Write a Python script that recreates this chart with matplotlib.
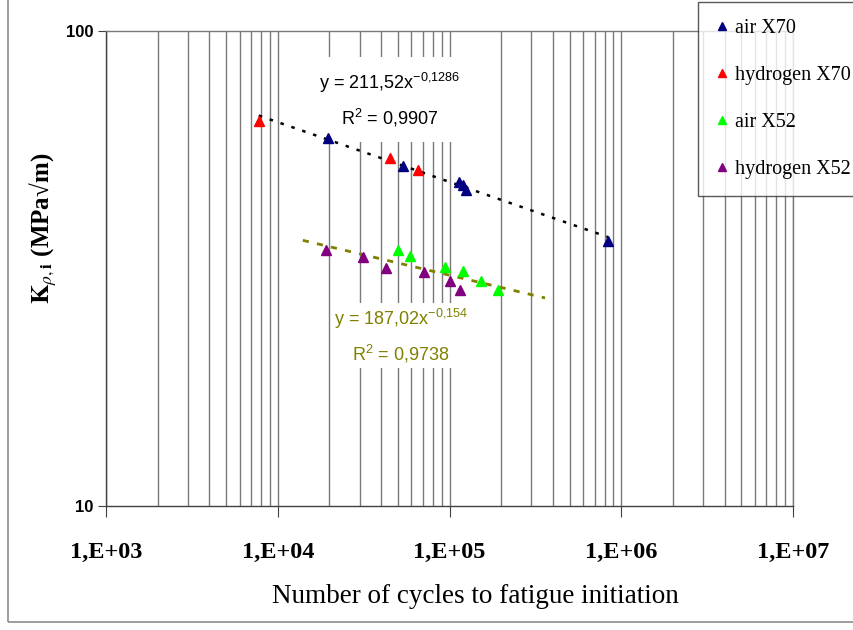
import numpy as np
import matplotlib
matplotlib.use("Agg")
import matplotlib.pyplot as plt
from matplotlib.patches import Rectangle

# ---------------- data ----------------
air_x70_n = [19600, 53500, 114000, 119500, 125000, 837000]
air_x70_k = [59.6, 52.0, 48.2, 47.3, 46.3, 36.2]
h2_x70_n = [7750, 45000, 65800]
h2_x70_k = [64.7, 54.1, 51.0]
air_x52_n = [50300, 59100, 94400, 120600, 152900, 190900]
air_x52_k = [34.6, 33.6, 31.8, 31.2, 29.7, 28.5]
h2_x52_n = [19200, 31300, 42900, 70600, 100000, 115400]
h2_x52_k = [34.6, 33.5, 31.7, 31.1, 29.7, 28.5]
x52_trend_range = [1.4e4, 3.6e5]

series_labels = ["air X70", "hydrogen X70", "air X52", "hydrogen X52"]
series_colors = ["#000080", "#ff0000", "#00ff00", "#800080"]

xtick_vals = [1e3, 1e4, 1e5, 1e6, 1e7]
xtick_labels = ["1,E+03", "1,E+04", "1,E+05", "1,E+06", "1,E+07"]
ytick_vals = [10, 100]
ytick_labels = ["10", "100"]

eq_x70 = ["y = 211,52x$^{\\mathregular{-0{,}1286}}$", "R$^{\\mathregular{2}}$ = 0,9907"]
eq_x52 = ["y = 187,02x$^{\\mathregular{-0{,}154}}$", "R$^{\\mathregular{2}}$ = 0,9738"]

x_label = "Number of cycles to fatigue initiation"
y_label = r"$\mathbf{K}_{\rho,\mathbf{i}}$ (MPa√m)"

# ---------------- figure ----------------
plt.rcParams["mathtext.fontset"] = "custom"
plt.rcParams["mathtext.rm"] = "Liberation Sans"
plt.rcParams["mathtext.it"] = "Liberation Sans:italic"
plt.rcParams["mathtext.bf"] = "Liberation Sans:bold"

W, H = 854, 630
fig = plt.figure(figsize=(W / 100, H / 100), dpi=100)
fig.patch.set_facecolor("white")

# outer chart-area border
fig.patches.append(Rectangle((8 / W, 8 / H), 1.2, (622 - 8) / H + 0.02,
                             transform=fig.transFigure, fill=False,
                             edgecolor="#8c8c8c", linewidth=1.2))

ax = fig.add_axes([106 / W, (H - 506) / H, (793 - 106) / W, (506 - 31) / H])
ax.set_xscale("log")
ax.set_yscale("log")
ax.set_xlim(1e3, 1e7)
ax.set_ylim(10, 100)

grid_c = "#7a7a7a"
ax.xaxis.grid(True, which="both", color=grid_c, linewidth=1.0)
ax.yaxis.grid(False, which="both")
ax.set_axisbelow(True)
for s in ["left", "bottom"]:
    ax.spines[s].set_color("#404040")
    ax.spines[s].set_linewidth(1.0)
for s in ["top", "right"]:
    ax.spines[s].set_color(grid_c)
    ax.spines[s].set_linewidth(1.0)

ax.set_xticks(xtick_vals)
ax.set_xticklabels(xtick_labels, fontfamily="Liberation Serif",
                   fontweight="bold", fontsize=17.5)
ax.xaxis.set_minor_formatter(matplotlib.ticker.NullFormatter())
ax.tick_params(axis="x", which="major", direction="out", length=8,
               color="#404040", pad=18)
ax.tick_params(axis="x", which="minor", length=0)
ax.set_yticks(ytick_vals)
ax.set_yticklabels(ytick_labels, fontfamily="Liberation Sans",
                   fontweight="bold", fontsize=12)
ax.yaxis.set_minor_locator(matplotlib.ticker.NullLocator())
ax.tick_params(axis="y", which="major", direction="out", length=6,
               color="#404040", pad=3)

ax.set_xlabel(x_label, fontfamily="Liberation Serif", fontsize=19.5)
ax.xaxis.set_label_coords(0.537, -0.165)
ax.set_ylabel(y_label, fontfamily=["Liberation Serif", "DejaVu Serif"],
              fontweight="bold", fontsize=18, math_fontfamily="stix")
ax.yaxis.set_label_coords(-0.068, 0.585)

# ---------------- trendlines (power fits) ----------------
def power_fit(xs, ys):
    b, loga = np.polyfit(np.log10(xs), np.log10(ys), 1)
    return 10 ** loga, b

x70_n = np.array(air_x70_n + h2_x70_n, float)
x70_k = np.array(air_x70_k + h2_x70_k, float)
a70, b70 = power_fit(x70_n, x70_k)
xx70 = np.logspace(np.log10(x70_n.min()), np.log10(x70_n.max()), 100)
ax.plot(xx70, a70 * xx70 ** b70, color="black", linewidth=1.8,
        linestyle=(0, (1.4, 3.2)), zorder=3)

x52_n = np.array(air_x52_n + h2_x52_n, float)
x52_k = np.array(air_x52_k + h2_x52_k, float)
a52, b52 = power_fit(x52_n, x52_k)
xx52 = np.logspace(np.log10(x52_trend_range[0]), np.log10(x52_trend_range[1]), 100)
ax.plot(xx52, a52 * xx52 ** b52, color="#808000", linewidth=2.0,
        linestyle=(0, (2.2, 3.0)), zorder=3)

# ---------------- markers ----------------
all_n = [air_x70_n, h2_x70_n, air_x52_n, h2_x52_n]
all_k = [air_x70_k, h2_x70_k, air_x52_k, h2_x52_k]
handles = []
for n, k, c, lab in zip(all_n, all_k, series_colors, series_labels):
    h, = ax.plot(n, k, linestyle="none", marker="^", markersize=6.5,
                 color=c, markeredgecolor=c, label=lab, zorder=4)
    handles.append(h)

# ---------------- equations ----------------
ax.annotate("\n".join(eq_x70), xy=(390 - 106, 506 - 100),
            xycoords="axes pixels", ha="center", va="center",
            fontsize=13, fontfamily="Liberation Sans", color="black",
            linespacing=1.7, zorder=2,
            bbox=dict(facecolor="white", edgecolor="none", pad=9))
ax.annotate("\n".join(eq_x52), xy=(401 - 106, 506 - 336),
            xycoords="axes pixels", ha="center", va="center",
            fontsize=13, fontfamily="Liberation Sans", color="#808000",
            linespacing=1.7, zorder=2,
            bbox=dict(facecolor="white", edgecolor="none", pad=2))

# ---------------- legend ----------------
leg = fig.legend(handles, series_labels, loc="upper left",
                 bbox_to_anchor=(698 / W, 1 - 2 / H), borderaxespad=0,
                 frameon=True, fancybox=False, edgecolor="#303030",
                 prop=dict(family="Liberation Serif", size=14.5),
                 labelspacing=1.38, handlelength=0.7, handletextpad=0.3,
                 borderpad=0.85, markerscale=0.8)
leg.get_frame().set_linewidth(1.0)

fig.savefig("out.png", dpi=100)
